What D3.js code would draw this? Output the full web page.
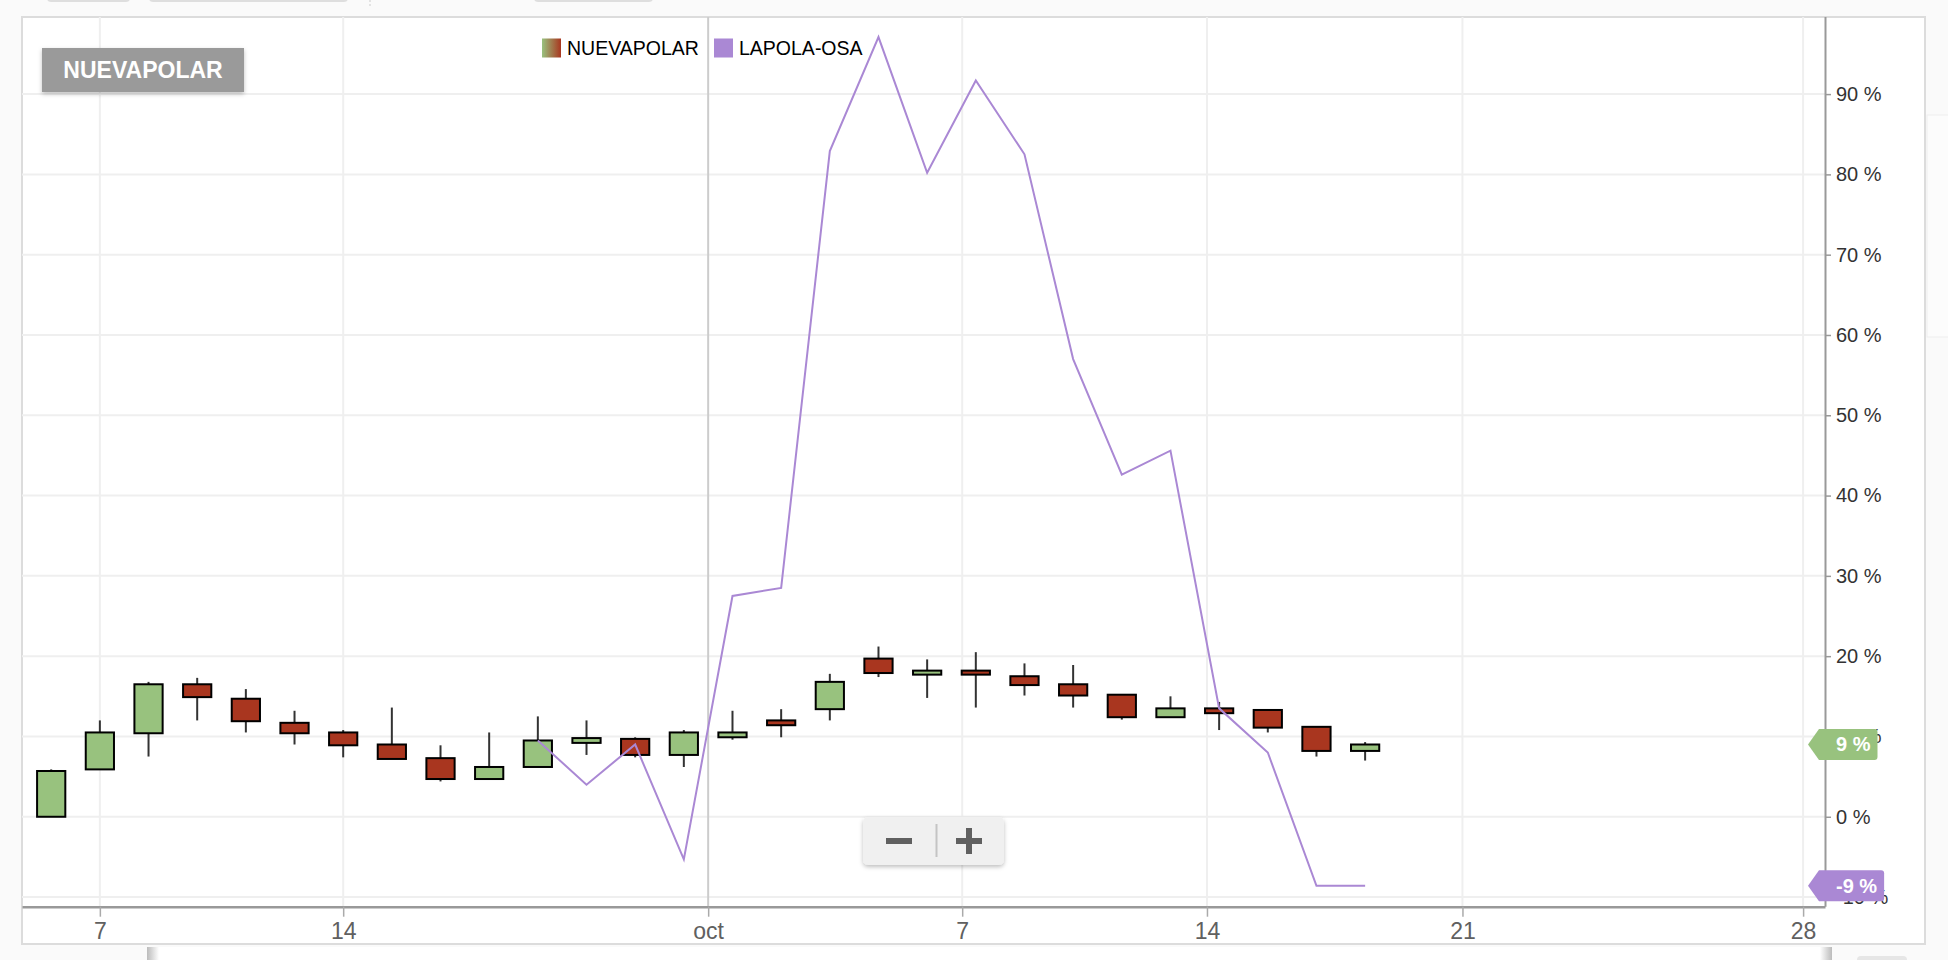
<!DOCTYPE html>
<html><head><meta charset="utf-8">
<script src="https://cdn.jsdelivr.net/npm/d3@7"></script>
<style>
html,body{margin:0;padding:0;background:#fafafa;overflow:hidden;}
svg{display:block;font-family:"Liberation Sans",Arial,Helvetica,sans-serif;}
</style></head><body>
<svg id="c" width="1948" height="960"></svg>
<script>
// ---- data (percent change vs. first open) ----
const dates = ["2012-09-06","2012-09-07","2012-09-10","2012-09-11","2012-09-12","2012-09-13","2012-09-14",
  "2012-09-20","2012-09-21","2012-09-24","2012-09-25","2012-09-26","2012-09-27","2012-09-28",
  "2012-10-01","2012-10-02","2012-10-03","2012-10-04","2012-10-05","2012-10-08","2012-10-09",
  "2012-10-10","2012-10-11","2012-10-12","2012-10-15","2012-10-16","2012-10-17","2012-10-18"];
const openV  = [0, 5.9, 10.4, 16.5, 14.7, 11.7, 10.5, 9.0, 7.3, 4.7, 6.2, 9.2, 9.7, 7.7,
                9.9, 12.0, 13.4, 19.7, 17.7, 18.2, 17.5, 16.5, 15.2, 12.4, 13.5, 13.3, 11.2, 8.2];
const highV  = [5.9, 12.0, 16.8, 17.3, 15.9, 13.2, 10.8, 13.6, 8.9, 10.5, 12.5, 12.0, 9.9, 10.8,
                13.2, 13.4, 17.8, 21.2, 19.6, 20.5, 19.1, 18.9, 15.2, 15.0, 14.3, 13.3, 11.2, 9.3];
const lowV   = [0, 5.9, 7.5, 12.0, 10.5, 9.0, 7.4, 7.2, 4.4, 4.7, 6.2, 7.7, 7.4, 6.2,
                9.6, 9.9, 12.0, 17.4, 14.8, 13.6, 15.1, 13.6, 12.1, 12.4, 10.8, 10.5, 7.5, 7.0];
const closeV = [5.7, 10.5, 16.5, 14.9, 11.9, 10.4, 8.9, 7.2, 4.7, 6.2, 9.5, 9.8, 7.7, 10.5,
                10.5, 11.4, 16.8, 17.9, 18.2, 17.7, 16.4, 15.1, 12.4, 13.5, 12.9, 11.1, 8.2, 9.0];
const compareStartIndex = 10;
const compareV = [9.5, 4.0, 9.0, -5.3, 27.5, 28.5, 82.9, 97.1, 80.2, 91.7, 82.5, 57.0,
                  42.6, 45.6, 13.5, 8.0, -8.6, -8.6];
const seriesNames = ["NUEVAPOLAR", "LAPOLA-OSA"];
const yTicks = [-10, 0, 10, 20, 30, 40, 50, 60, 70, 80, 90];
const xTickLabels = ["7", "14", "oct", "7", "14", "21", "28"];
const xTickAt = [1, 6, 13.5, 18.72, 23.75, 29, 36];   // positions on the ordinal (trading-day) axis

// ---- drawing ----
const GREEN = "#98c27e", RED = "#a9361f", PURPLE = "#aa88d4";
const svg = d3.select("#c");
const defs = svg.append("defs");
const grad = defs.append("linearGradient").attr("id","lg");
grad.append("stop").attr("offset","0%").attr("stop-color",GREEN);
grad.append("stop").attr("offset","100%").attr("stop-color",RED);
const sh = defs.append("filter").attr("id","sh").attr("x","-20%").attr("y","-20%").attr("width","140%").attr("height","160%");
sh.append("feDropShadow").attr("dx",0).attr("dy",2).attr("stdDeviation",2).attr("flood-color","#000").attr("flood-opacity",0.25);
const nvg = defs.append("linearGradient").attr("id","nv");
nvg.append("stop").attr("offset","0").attr("stop-color","#bbb");
nvg.append("stop").attr("offset","1").attr("stop-color","#fff");

// top clipped buttons
[[47,130],[149,348],[534,653]].forEach(([a,b])=>{
  svg.append("rect").attr("x",a).attr("y",-12).attr("width",b-a).attr("height",14).attr("rx",4).attr("fill","#dedede");
});
svg.append("line").attr("x1",370).attr("x2",370).attr("y1",0).attr("y2",6).attr("stroke","#ccc").attr("stroke-dasharray","2,2");

// side panel
svg.append("rect").attr("x",1927).attr("y",115).attr("width",30).attr("height",222).attr("fill","#fcfcfc").attr("stroke","#eee");

// bottom navigator strip
svg.append("rect").attr("x",147).attr("y",947).attr("width",1685).attr("height",20).attr("fill","#fff");
svg.append("rect").attr("x",147).attr("y",947).attr("width",12).attr("height",20).attr("fill","url(#nv)");
svg.append("rect").attr("x",1820).attr("y",947).attr("width",12).attr("height",20).attr("fill","url(#nv)").attr("transform","translate(3652,0) scale(-1,1)");
svg.append("rect").attr("x",1857).attr("y",956).attr("width",50).attr("height",12).attr("rx",4).attr("fill","#e6e6e6");

// frame
const L = 22, R = 1825, T = 17, B = 906.7;
svg.append("rect").attr("x",L).attr("y",T).attr("width",1925-L).attr("height",944-T)
  .attr("fill","#fff").attr("stroke","#dcdcdc").attr("stroke-width",2);

const x = d3.scaleLinear().domain([-0.6, 36.45]).range([L, R]);
const y = d3.scaleLinear().domain([-11.2, 99.6]).range([B, T]);

// grid
svg.append("g").selectAll("line").data(yTicks).join("line")
  .attr("x1",L).attr("x2",R).attr("y1",d=>y(d)).attr("y2",d=>y(d))
  .attr("stroke","#efefef").attr("stroke-width",2);
svg.append("g").selectAll("line").data(xTickAt).join("line")
  .attr("x1",d=>x(d)).attr("x2",d=>x(d)).attr("y1",T).attr("y2",B)
  .attr("stroke",(d,i)=>xTickLabels[i]==="oct"?"#cccccc":"#efefef").attr("stroke-width",2);

// candles
const candles = dates.map((d,i)=>({i, o:openV[i], h:highV[i], l:lowV[i], c:closeV[i]}));
const cg = svg.append("g");
cg.selectAll("line").data(candles).join("line")
  .attr("x1",d=>x(d.i)).attr("x2",d=>x(d.i)).attr("y1",d=>y(d.h)).attr("y2",d=>y(d.l))
  .attr("stroke","#333").attr("stroke-width",2);
const bw = (x(1)-x(0))*0.58;
cg.selectAll("rect").data(candles).join("rect")
  .attr("x",d=>x(d.i)-bw/2).attr("width",bw)
  .attr("y",d=>y(Math.max(d.o,d.c))).attr("height",d=>Math.max(1,Math.abs(y(d.o)-y(d.c))))
  .attr("fill",d=>d.c>=d.o?GREEN:RED).attr("stroke","#000").attr("stroke-width",2);

// compare line
const lineData = compareV.map((v,k)=>({i:compareStartIndex+k, v}));
svg.append("path").datum(lineData)
  .attr("d", d3.line().x(d=>x(d.i)).y(d=>y(d.v)))
  .attr("fill","none").attr("stroke",PURPLE).attr("stroke-width",2);

// x axis
const xa = svg.append("g").attr("transform",`translate(0,${B})`)
  .call(d3.axisBottom(x).tickValues(xTickAt).tickFormat((d,i)=>xTickLabels[i]).tickSize(10).tickSizeOuter(0));
xa.select(".domain").attr("stroke","#999").attr("stroke-width",2.5);
xa.selectAll(".tick line").attr("stroke","#aaa").attr("stroke-width",1.5);
xa.selectAll(".tick text").attr("fill","#606060").attr("font-size",23).attr("dy","0.85em").attr("y",13)
  .attr("font-family","Liberation Sans, Arial, sans-serif");

// y axis
const ya = svg.append("g").attr("transform",`translate(${R},0)`)
  .call(d3.axisRight(y).tickValues(yTicks).tickFormat(d=>d+" %").tickSize(6).tickSizeOuter(0));
ya.select(".domain").attr("stroke","#999").attr("stroke-width",2).attr("d",`M0.5,${T}V${B}`);
ya.selectAll(".tick line").attr("stroke","#999").attr("stroke-width",1.5);
ya.selectAll(".tick text").attr("fill","#333").attr("font-size",20).attr("x",11)
  .attr("font-family","Liberation Sans, Arial, sans-serif");

// flags for last values
function flag(val, color){
  const cy = y(val);
  const g = svg.append("g");
  const p = g.append("path").attr("fill",color);
  const t = g.append("text").attr("x",1836).attr("y",cy).attr("dy","0.35em")
    .attr("fill","#fff").attr("font-size",20).attr("font-weight","bold").text(Math.round(val)+" %");
  const end = 1836 + t.node().getComputedTextLength() + 7;
  const h = 15.5, r = 3;
  p.attr("d",`M1808,${cy} L1819,${cy-h} H${end-r} Q${end},${cy-h} ${end},${cy-h+r} V${cy+h-r} Q${end},${cy+h} ${end-r},${cy+h} H1819 Z`);
}
flag(closeV[closeV.length-1], GREEN);
flag(compareV[compareV.length-1], PURPLE);

// legend
const lg = svg.append("g");
lg.append("rect").attr("x",542).attr("y",38.5).attr("width",19).attr("height",19).attr("fill","url(#lg)");
lg.append("text").attr("x",567).attr("y",48).attr("dy","0.36em").attr("font-size",19.5).attr("fill","#000").text(seriesNames[0]);
lg.append("rect").attr("x",714).attr("y",38.5).attr("width",19).attr("height",19).attr("fill",PURPLE);
lg.append("text").attr("x",739).attr("y",48).attr("dy","0.36em").attr("font-size",19.5).attr("fill","#000").text(seriesNames[1]);

// series button
svg.append("rect").attr("x",42).attr("y",48).attr("width",202).attr("height",44).attr("fill","#9a9a9a").attr("filter","url(#sh)");
svg.append("text").attr("x",143).attr("y",70).attr("dy","0.36em").attr("text-anchor","middle")
  .attr("font-size",23).attr("font-weight","bold").attr("fill","#fff").text(seriesNames[0]);

// zoom control
const zc = svg.append("g");
zc.append("rect").attr("x",863).attr("y",817).attr("width",141).attr("height",48).attr("rx",5)
  .attr("fill","#f0f0f0").attr("filter","url(#sh)");
zc.append("rect").attr("x",886).attr("y",838).attr("width",26).attr("height",6).attr("fill","#606060");
zc.append("line").attr("x1",936.5).attr("x2",936.5).attr("y1",824).attr("y2",857).attr("stroke","#c4c4c4").attr("stroke-width",2);
zc.append("rect").attr("x",956).attr("y",838).attr("width",26).attr("height",6).attr("fill","#606060");
zc.append("rect").attr("x",966).attr("y",828).attr("width",6).attr("height",26).attr("fill","#606060");
</script>
</body></html>
